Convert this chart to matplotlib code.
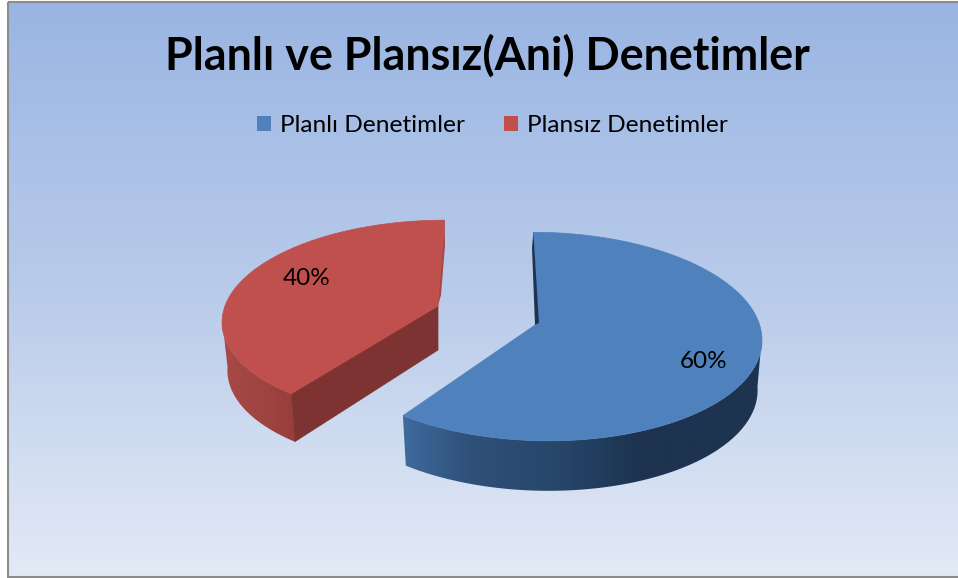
import numpy as np
import matplotlib.pyplot as plt
from matplotlib.colors import LinearSegmentedColormap, to_rgb
from matplotlib.patches import Patch, Polygon, Rectangle

labels = ['Planlı Denetimler', 'Plansız Denetimler']
values = [60, 40]
pct_labels = ['60%', '40%']
title = 'Planlı ve Plansız(Ani) Denetimler'

W, H = 958, 578
plt.rcParams['font.family'] = ['Lato', 'DejaVu Sans']

fig = plt.figure(figsize=(W / 100, H / 100), dpi=100, facecolor='white')
ax = fig.add_axes([0, 0, 1, 1])
ax.axis('off')

# arka plan
bg = LinearSegmentedColormap.from_list('bg', ['#9ab5e3', '#b9cbea', '#e3eaf6'])
ax.imshow(np.linspace(0, 1, 256).reshape(-1, 1), cmap=bg, aspect='auto',
          extent=[8, W, 577, 2], zorder=0)
ax.add_patch(Rectangle((8, 2), W, 575, fill=False, ec='#8c8c8c', lw=1.5, zorder=1))

K = 0.13


def project(t, cx, cy, rx, ry, shear, rx_scale=1.0, dy=0.0):
    # daire -> perspektif, t: tepeden saat yonunde derece
    a = np.radians(t)
    x, y = np.sin(a), np.cos(a)
    w = 1 + K * y
    return cx + (rx * rx_scale * x + shear * y) / w, cy - ry * y / w + dy


def wall(x0, y0, x1, y1, stops):
    # yan yuzey: yatay renk gecisi, poligona kirpilmis
    pts = np.vstack([np.column_stack([x0, y0]), np.column_stack([x1, y1])[::-1]])
    poly = Polygon(pts, fc='none', ec='none', zorder=2)
    ax.add_patch(poly)
    left, right = pts[:, 0].min(), pts[:, 0].max()
    xs = np.linspace(left, right, 256)
    cols = np.array([to_rgb(c) for _, c in stops])
    at = [p for p, _ in stops]
    rgb = np.stack([np.interp(xs, at, cols[:, i]) for i in range(3)], axis=-1)[None, :, :]
    im = ax.imshow(rgb, aspect='auto', extent=[left, right, pts[:, 1].max(), pts[:, 1].min()], zorder=2)
    im.set_clip_path(poly)


edges = np.cumsum([0] + values) / sum(values) * 360

# mavi dilim
t = np.linspace(edges[0], edges[1], 240)
blue = dict(cx=540, cy=323, rx=219, ry=102.5, shear=-7.5)
x0, y0 = project(t, **blue)
x1, y1 = project(t, **blue, rx_scale=0.98, dy=50)
keep = t >= 97
wall(x0[keep], y0[keep], x1[keep], y1[keep],
     [(402, '#3f6b9e'), (470, '#2f5078'), (560, '#27466a'), (640, '#1d3350'), (760, '#1d3350')])
ax.add_patch(Polygon(np.vstack([np.column_stack([x0, y0]), [[538, 323]]]),
                     fc='#4f81bd', ec='#4f81bd', lw=0.5, zorder=3))
ax.add_patch(Polygon([(x0[0], y0[0]), (532, 248), (535, 325), (539, 323)],
                     fc='#1d3350', ec='none', zorder=4))

# kirmizi dilim
t = np.linspace(edges[1], edges[2], 200)
red = dict(cx=438, cy=306, rx=213, ry=97, shear=7.5)
x0, y0 = project(t, **red)
x1, y1 = project(t, **red, rx_scale=0.975, dy=48)
keep = t <= 263
wall(x0[keep], y0[keep], x1[keep], y1[keep], [(222, '#a84a47'), (295, '#973f3c')])
ax.add_patch(Polygon([(x0[0], y0[0]), (438, 306), (438, 350), (x1[0], y1[0])],
                     fc='#7d3331', ec='#7d3331', lw=0.5, zorder=3))
ax.add_patch(Polygon(np.vstack([np.column_stack([x0, y0]), [[438, 306]]]),
                     fc='#c0504d', ec='#c0504d', lw=0.5, zorder=4))
ax.add_patch(Polygon([(x0[-1], y0[-1]), (445, 245), (441, 295), (438, 306)],
                     fc='#a84643', ec='none', zorder=5))

# yazilar
ax.text(487, 56, title, ha='center', va='center', fontsize=32.3, fontweight='bold', color='black', zorder=6)
ax.text(704, 361.5, pct_labels[0], ha='center', va='center', fontsize=17.5, color='black', zorder=6)
ax.text(307, 278.5, pct_labels[1], ha='center', va='center', fontsize=17.5, color='black', zorder=6)

handles = [Patch(fc='#4f81bd', ec='none'), Patch(fc='#c0504d', ec='none')]
fig.legend(handles, labels, loc='center', bbox_to_anchor=(492.5 / W, 1 - 126 / H), ncol=2,
           frameon=False, fontsize=17.6, handlelength=0.57, handleheight=0.57,
           handletextpad=0.37, columnspacing=1.6)

ax.set_xlim(0, W)
ax.set_ylim(H, 0)
fig.savefig('out.png', dpi=100)
